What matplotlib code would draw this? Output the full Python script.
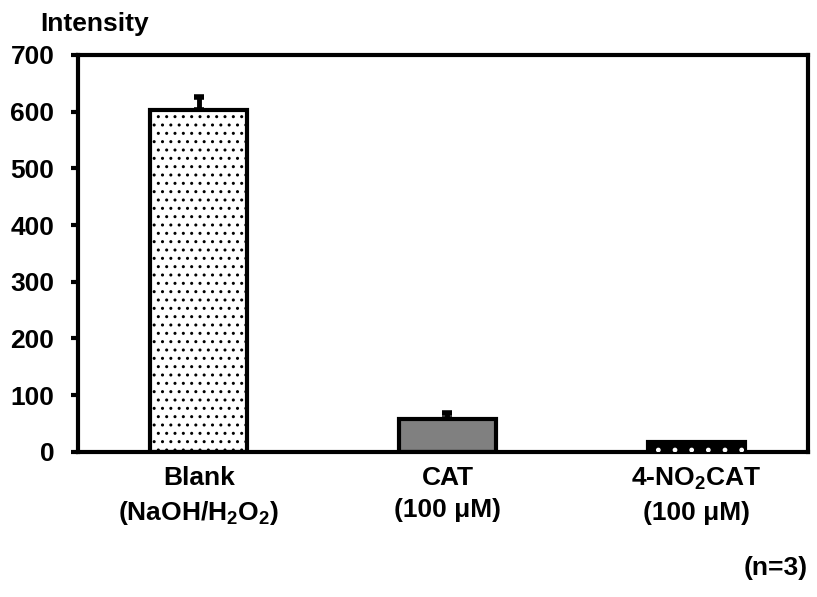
import matplotlib
matplotlib.use("Agg")
import matplotlib.pyplot as plt

plt.rcParams['font.family'] = ['Liberation Sans', 'DejaVu Sans']
plt.rcParams['font.weight'] = 'bold'
plt.rcParams['mathtext.fontset'] = 'custom'
plt.rcParams['mathtext.rm'] = 'Liberation Sans:bold'
plt.rcParams['mathtext.bf'] = 'Liberation Sans:bold'
plt.rcParams['mathtext.it'] = 'Liberation Sans:bold'
plt.rcParams['mathtext.default'] = 'bf'
plt.rcParams['hatch.linewidth'] = 1.0

categories = ["Blank\n(NaOH/H$_2$O$_2$)", "CAT\n(100 \u03bcM)", "4-NO$_2$CAT\n(100 \u03bcM)"]
values = [603, 58, 18]
errors = [23, 10, 0]
yticks = [0, 100, 200, 300, 400, 500, 600, 700]

FS = 19

fig = plt.figure(figsize=(8.17, 5.97), dpi=100)
ax = fig.add_axes([0.0955, 0.243, 0.8935, 0.665])

x = list(range(len(categories)))
styles = [dict(facecolor='white', hatch='..', edgecolor='black'),
          dict(facecolor='#808080', hatch=None, edgecolor='black'),
          dict(facecolor='black', hatch=None, edgecolor='black')]
for xi, v, e, st in zip(x, values, errors, styles):
    ax.bar(xi, v, width=0.39, linewidth=3, zorder=2, **st)
    if e > 0:
        ax.errorbar(xi, v, yerr=[[0], [e]], fmt='none', ecolor='black',
                    elinewidth=3.5, capsize=3.5, capthick=4, zorder=1)

# white dots for the 4-NO2CAT bar
ax.bar(2, values[2], width=0.39, facecolor='none', edgecolor='white', hatch='.',
       linewidth=0, zorder=3)

ax.set_xlim(-0.486, 2.45)
ax.set_ylim(0, 700)
ax.set_yticks(yticks)
ax.set_yticklabels([str(t) for t in yticks], fontsize=FS, fontweight='bold')
ax.set_xticks(x)
ax.set_xticklabels(categories, fontsize=FS, fontweight='bold', linespacing=1.45)
ax.tick_params(axis='x', length=0, pad=10)
ax.tick_params(axis='y', direction='out', length=5, width=3, pad=12)
for s in ax.spines.values():
    s.set_linewidth(3)

fig.text(40 / 817, 1 - 24 / 597, "Intensity", fontsize=FS, fontweight='bold', va='center', ha='left')
fig.text(808 / 817, 1 - 568 / 597, "(n=3)", fontsize=FS, fontweight='bold', va='center', ha='right')

fig.savefig("out.png", dpi=100)
